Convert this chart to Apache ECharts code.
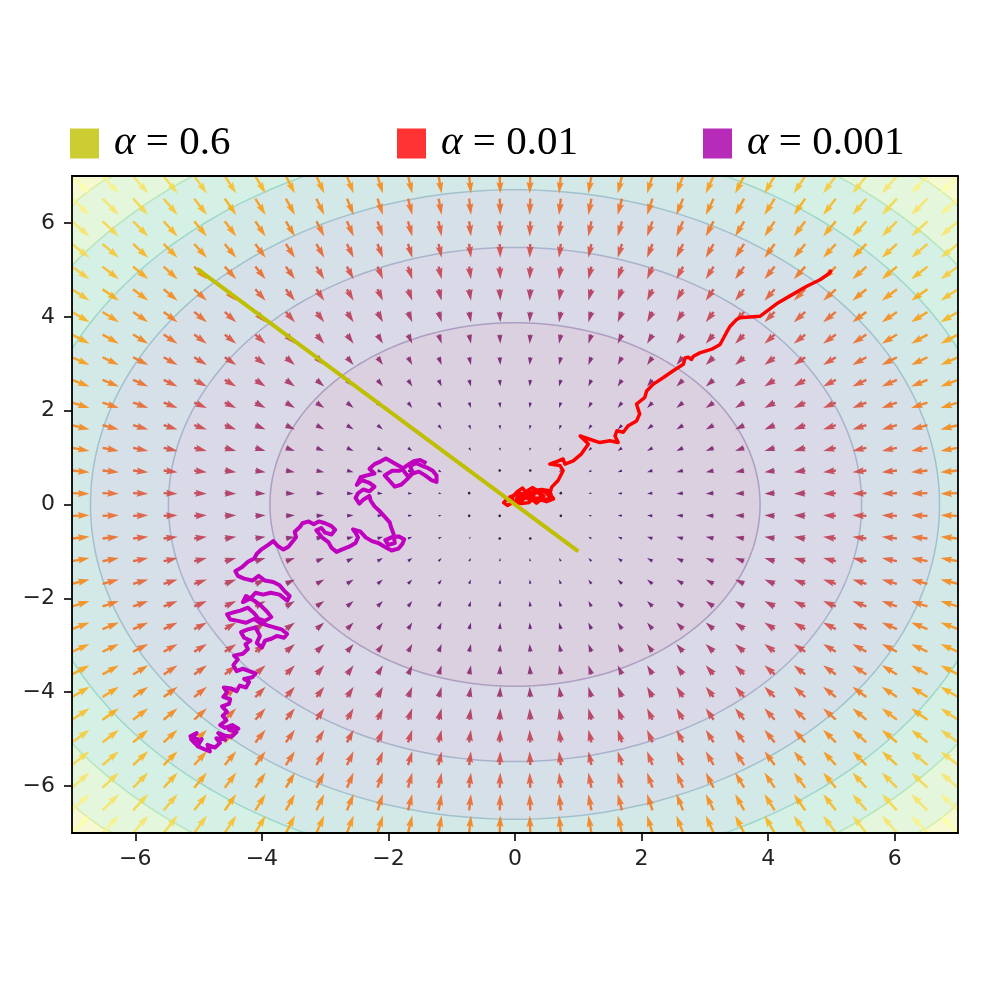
<!DOCTYPE html>
<html><head><meta charset="utf-8">
<script src="https://cdn.jsdelivr.net/npm/echarts@6/dist/echarts.min.js"></script>
<style>html,body{margin:0;padding:0;background:#fff}#c{width:1000px;height:1000px}</style>
</head><body><div id="c"></div>
<script>
// ---- data ----
const xTicks = [-6, -4, -2, 0, 2, 4, 6];
const yTicks = [-6, -4, -2, 0, 2, 4, 6];
const gridVals = [-7, -6.5172, -6.0345, -5.5517, -5.0690, -4.5862, -4.1034, -3.6207, -3.1379, -2.6552,
  -2.1724, -1.6897, -1.2069, -0.7241, -0.2414, 0.2414, 0.7241, 1.2069, 1.6897, 2.1724,
  2.6552, 3.1379, 3.6207, 4.1034, 4.5862, 5.0690, 5.5517, 6.0345, 6.5172, 7];
const contourLevels = [15, 30, 45, 60, 75, 90];
const bandColors = ['#dad0e0', '#d9d9e7', '#d6e0e8', '#d3e9e8', '#d5f0e5', '#e4f6dc', '#f6f9d1'];
const lineColors = ['rgba(72,33,115,0.3)', 'rgba(59,82,139,0.3)', 'rgba(44,114,142,0.3)',
  'rgba(34,168,132,0.3)', 'rgba(94,201,98,0.3)', 'rgba(173,220,48,0.3)'];
const seriesNames = ['α = 0.6', 'α = 0.01', 'α = 0.001'];
const legendLabels = ['0.6', '0.01', '0.001'];
const traj06 = [[-5, 5], [1, -1], [-0.2, 0.2], [0.04, -0.04], [-0.008, 0.008], [0.0016, -0.0016]];
const traj001 = [[5.0,5.0],[4.97,4.93],[4.82,4.79],[4.61,4.65],[4.34,4.44],[4.16,4.30],[3.98,4.12],[3.87,4.01],
  [3.55,3.98],[3.50,3.94],[3.40,3.80],[3.34,3.66],[3.24,3.41],[3.11,3.31],[2.92,3.23],[2.82,3.16],[2.79,3.09],
  [2.74,3.14],[2.69,3.13],[2.66,2.99],[2.50,2.85],[2.34,2.70],[2.18,2.56],[2.08,2.42],[2.05,2.28],[1.92,2.14],
  [1.97,1.93],[1.92,1.78],[1.79,1.68],[1.71,1.54],[1.61,1.57],[1.58,1.46],[1.63,1.32],[1.50,1.36],[1.34,1.32],
  [1.18,1.39],[1.03,1.46],[1.16,1.29],[1.05,1.08],[0.92,0.93],[0.79,0.86],[0.76,0.97],[0.63,0.90],[0.55,0.86],
  [0.71,0.83],[0.76,0.72],[0.68,0.51],[0.58,0.37],[0.55,0.23],[0.61,0.12],[0.50,0.06],[0.40,0.10],[0.34,0.03],
  [0.24,0.14],[0.16,0.28],[0.12,0.35],[0.04,0.28],[-0.03,0.18],[-0.05,0.10],[-0.14,0.10],[-0.18,0.04],[-0.12,-0.02],
  [-0.04,0.04],[0.06,0.06],[0.14,0.16],[0.20,0.30],[0.28,0.36],[0.35,0.30],[0.40,0.20],[0.44,0.30],[0.50,0.24],
  [0.56,0.14],[0.46,0.10],[0.36,0.14],[0.26,0.08],[0.18,0.20],[0.08,0.24],[0.00,0.20],[-0.08,0.16],[-0.02,0.06],
  [0.10,0.02],[0.22,0.04],[0.30,0.18],[0.22,0.28],[0.12,0.22],[0.02,0.12],[0.10,0.08],[0.24,0.22],[0.38,0.26],
  [0.46,0.18],[0.34,0.08],[0.20,0.12],[0.30,0.30],[0.42,0.32],[0.52,0.30],[0.58,0.20]];
const traj0001 = [[-5.00,-5.01],[-5.13,-4.94],[-5.03,-4.87],[-5.12,-5.00],[-5.05,-5.10],[-4.95,-5.00],[-5.02,-5.15],
  [-4.90,-5.22],[-4.82,-5.26],[-4.86,-5.12],[-4.74,-5.18],[-4.66,-5.08],[-4.72,-4.98],[-4.58,-5.01],[-4.69,-4.87],
  [-4.60,-4.92],[-4.48,-4.95],[-4.40,-4.85],[-4.52,-4.80],[-4.37,-4.78],[-4.47,-4.70],[-4.58,-4.76],[-4.66,-4.70],
  [-4.56,-4.60],[-4.62,-4.50],[-4.55,-4.42],[-4.63,-4.30],[-4.52,-4.25],[-4.50,-4.15],[-4.61,-4.10],[-4.55,-4.00],
  [-4.60,-3.90],[-4.48,-3.92],[-4.40,-3.98],[-4.35,-3.86],[-4.25,-3.90],[-4.20,-3.78],[-4.28,-3.72],[-4.15,-3.68],
  [-4.10,-3.60],[-4.20,-3.55],[-4.30,-3.50],[-4.40,-3.55],[-4.45,-3.42],[-4.38,-3.30],[-4.44,-3.22],[-4.30,-3.18],
  [-4.22,-3.08],[-4.26,-2.98],[-4.18,-2.90],[-4.28,-2.84],[-4.33,-2.72],[-4.22,-2.66],[-4.10,-2.62],[-4.03,-2.80],
  [-4.08,-2.95],[-4.00,-3.05],[-3.95,-2.90],[-3.85,-2.86],[-3.76,-2.80],[-3.65,-2.84],[-3.60,-2.76],[-3.69,-2.66],
  [-3.80,-2.62],[-3.90,-2.58],[-4.03,-2.52],[-4.12,-2.44],[-4.25,-2.52],[-4.38,-2.48],[-4.50,-2.45],[-4.55,-2.34],
  [-4.45,-2.30],[-4.34,-2.26],[-4.22,-2.20],[-4.12,-2.32],[-4.05,-2.44],[-3.95,-2.48],[-3.85,-2.40],[-3.92,-2.28],
  [-4.02,-2.15],[-4.12,-2.05],[-4.25,-1.95],[-4.30,-2.08],[-4.18,-2.00],[-4.10,-1.88],[-3.98,-1.92],[-3.86,-1.88],
  [-3.72,-1.92],[-3.60,-2.05],[-3.56,-1.95],[-3.64,-1.85],[-3.72,-1.72],[-3.82,-1.65],[-3.95,-1.62],[-4.05,-1.52],
  [-4.15,-1.62],[-4.28,-1.58],[-4.38,-1.52],[-4.42,-1.42],[-4.32,-1.34],[-4.22,-1.22],[-4.12,-1.15],[-4.08,-1.05],
  [-4.00,-0.95],[-3.90,-0.86],[-3.82,-0.78],[-3.75,-0.88],[-3.66,-0.96],[-3.58,-0.90],[-3.52,-0.80],[-3.46,-0.70],
  [-3.48,-0.58],[-3.40,-0.48],[-3.36,-0.40],[-3.26,-0.36],[-3.18,-0.42],[-3.10,-0.36],[-3.00,-0.40],[-2.90,-0.46],
  [-2.84,-0.54],[-2.90,-0.64],[-3.00,-0.60],[-3.06,-0.50],[-3.14,-0.55],[-3.05,-0.70],[-2.95,-0.80],[-2.90,-0.92],
  [-2.82,-1.01],[-2.72,-0.95],[-2.62,-0.90],[-2.52,-0.82],[-2.48,-0.70],[-2.52,-0.60],[-2.56,-0.53],[-2.44,-0.58],
  [-2.36,-0.70],[-2.26,-0.78],[-2.16,-0.82],[-2.06,-0.90],[-1.95,-0.98],[-1.84,-0.94],[-1.78,-0.84],[-1.75,-0.74],
  [-1.84,-0.68],[-1.95,-0.70],[-2.05,-0.76],[-2.00,-0.86],[-1.90,-0.82],[-1.92,-0.62],[-1.96,-0.48],[-1.98,-0.38],
  [-2.06,-0.26],[-2.14,-0.14],[-2.22,-0.04],[-2.28,0.08],[-2.30,0.18],[-2.40,0.10],[-2.46,0.02],[-2.52,0.14],
  [-2.48,0.24],[-2.40,0.32],[-2.30,0.28],[-2.22,0.38],[-2.30,0.46],[-2.42,0.52],[-2.50,0.42],[-2.44,0.58],
  [-2.34,0.62],[-2.22,0.66],[-2.30,0.76],[-2.22,0.86],[-2.12,0.92],[-2.04,0.98],[-1.96,0.92],[-1.88,0.86],
  [-1.80,0.80],[-1.74,0.68],[-1.68,0.58],[-1.62,0.70],[-1.66,0.82],[-1.56,0.88],[-1.46,0.82],[-1.38,0.78],
  [-1.30,0.72],[-1.24,0.62],[-1.24,0.48],[-1.32,0.52],[-1.42,0.62],[-1.52,0.70],[-1.62,0.66],[-1.72,0.52],
  [-1.80,0.42],[-1.90,0.38],[-1.98,0.50],[-2.06,0.62],[-1.94,0.72],[-1.82,0.72],[-1.72,0.82],[-1.60,0.92],
  [-1.50,0.95],[-1.40,0.88]];

// ---- quiver field: negative gradient of the bowl, sampled on the grid ----
const quiverData = [];
gridVals.forEach(x => gridVals.forEach(y => quiverData.push([x, y, -x, -y])));
let maxMag = 0;
quiverData.forEach(d => { maxMag = Math.max(maxMag, Math.hypot(d[2], d[3])); });

const inferno = ['#000004','#160b39','#420a68','#6a176e','#932667','#bc3754','#dd513a','#f37819','#fca50a','#f6d746','#fcffa4'];
function hex2rgb(h){return [parseInt(h.substr(1,2),16),parseInt(h.substr(3,2),16),parseInt(h.substr(5,2),16)];}
function cmapColor(t, a) {
  t = Math.max(0, Math.min(1, t));
  const p = t * 10, i = Math.min(9, Math.floor(p)), f = p - i;
  const c0 = hex2rgb(inferno[i]), c1 = hex2rgb(inferno[i + 1]);
  const c = c0.map((v, k) => Math.round(v + (c1[k] - v) * f));
  return 'rgba(' + c.join(',') + ',' + a + ')';
}

const PX_PER_UNIT = 2.5, SW = 2.4, HL = 11.5, HAL = 10.3, HW = 7;
function renderArrow(params, api) {
  const x = api.value(0), y = api.value(1), u = api.value(2), v = api.value(3);
  const p = api.coord([x, y]);
  const m = Math.hypot(u, v);
  const color = cmapColor(m / maxMag, 0.88);
  const L = m * PX_PER_UNIT;
  if (L < SW) {
    return { type: 'circle', shape: { cx: p[0], cy: p[1], r: 1.3 }, style: { fill: color } };
  }
  const dx = u / m, dy = -v / m;
  const nx = -dy, ny = dx;
  let s = 1, len = L;
  if (L < HL) { s = L / HL; len = HL; }
  const loc = [[0, -SW / 2], [len - HAL, -SW / 2], [len - HL, -HW / 2], [len, 0], [len - HL, HW / 2], [len - HAL, SW / 2], [0, SW / 2]];
  const pts = loc.map(q => [p[0] + s * (q[0] * dx + q[1] * nx), p[1] + s * (q[0] * dy + q[1] * ny)]);
  return { type: 'polygon', shape: { points: pts }, style: { fill: color } };
}

function circlePts(api, r) {
  const pts = [];
  for (let i = 0; i <= 240; i++) {
    const a = i / 240 * Math.PI * 2;
    const cx = Math.max(-7, Math.min(7, r * Math.cos(a)));
    const cy = Math.max(-7, Math.min(7, r * Math.sin(a)));
    pts.push(api.coord([cx, cy]));
  }
  return pts;
}
function renderContour(params, api) {
  const children = [];
  children.push({ type: 'polygon', shape: { points: [api.coord([-7, -7]), api.coord([7, -7]), api.coord([7, 7]), api.coord([-7, 7])] },
    style: { fill: bandColors[6] } });
  for (let k = contourLevels.length - 1; k >= 0; k--) {
    children.push({ type: 'polygon', shape: { points: circlePts(api, Math.sqrt(contourLevels[k])) }, style: { fill: bandColors[k] } });
  }
  for (let k = contourLevels.length - 1; k >= 0; k--) {
    children.push({ type: 'polyline', shape: { points: circlePts(api, Math.sqrt(contourLevels[k])) },
      style: { stroke: lineColors[k], lineWidth: 1.5, fill: null } });
  }
  return { type: 'group', children };
}

const fmt = v => (v < 0 ? '\u2212' + (-v) : '' + v);
const legendColors = ['#cccc33', '#ff3333', '#b62bb8'];
const legendLefts = [70, 397, 703];
const lineColorsTraj = ['#bfbf00', '#ff0000', '#bf00bf'];

const axisLineStyle = { show: true, onZero: false, lineStyle: { color: '#000', width: 1.8 } };
const axisCommon = { type: 'value', min: -7, max: 7, z: 10, splitLine: { show: false } };
const option = {
  animation: false,
  backgroundColor: '#fff',
  grid: { left: 72, right: 42, top: 176, bottom: 167 },
  legend: seriesNames.map((n, i) => ({
    data: [{ name: n, itemStyle: { color: legendColors[i] } }],
    left: legendLefts[i], top: 123, padding: 0, icon: 'rect', itemWidth: 29, itemHeight: 30,
    selectedMode: false,
    formatter: () => '{a|α}{b| = ' + legendLabels[i] + '}',
    textStyle: {
      rich: {
        a: { fontFamily: 'Liberation Serif', fontStyle: 'italic', fontSize: 41, color: '#000', padding: [0, 0, 0, 10], lineHeight: 30 },
        b: { fontFamily: 'Liberation Serif', fontSize: 41, color: '#000', lineHeight: 30 }
      }
    }
  })),
  xAxis: [
    Object.assign({}, axisCommon, { position: 'bottom', axisLine: axisLineStyle,
      axisTick: { show: true, length: 8, lineStyle: { color: '#000', width: 1.6 }, customValues: xTicks },
      axisLabel: { customValues: xTicks, formatter: fmt, margin: 15, fontFamily: 'DejaVu Sans', fontSize: 22, color: '#222' } }),
    Object.assign({}, axisCommon, { position: 'top', axisLine: axisLineStyle,
      axisTick: { show: false }, axisLabel: { show: false } })
  ],
  yAxis: [
    Object.assign({}, axisCommon, { position: 'left', axisLine: axisLineStyle,
      axisTick: { show: true, length: 8, lineStyle: { color: '#000', width: 1.6 }, customValues: yTicks },
      axisLabel: { customValues: yTicks, formatter: fmt, margin: 17, fontFamily: 'DejaVu Sans', fontSize: 22, color: '#222' } }),
    Object.assign({}, axisCommon, { position: 'right', axisLine: axisLineStyle,
      axisTick: { show: false }, axisLabel: { show: false } })
  ],
  series: [
    { type: 'custom', name: 'contour', data: [[0, 0]], renderItem: renderContour, clip: true, z: 1, silent: true },
    { type: 'custom', name: 'quiver', data: quiverData, renderItem: renderArrow, clip: true, z: 2, silent: true,
      dimensions: ['x', 'y', 'u', 'v'], encode: { x: 0, y: 1 } },
    { type: 'line', name: seriesNames[2], data: traj0001, showSymbol: false, symbol: 'none', z: 3,
      lineStyle: { color: lineColorsTraj[2], width: 4, join: 'round' }, itemStyle: { color: lineColorsTraj[2] } },
    { type: 'line', name: seriesNames[1], data: traj001, showSymbol: false, symbol: 'none', z: 4,
      lineStyle: { color: lineColorsTraj[1], width: 3.5, join: 'round' }, itemStyle: { color: lineColorsTraj[1] } },
    { type: 'line', name: seriesNames[0], data: traj06, showSymbol: false, symbol: 'none', z: 5,
      lineStyle: { color: lineColorsTraj[0], width: 4, cap: 'square' }, itemStyle: { color: lineColorsTraj[0] } }
  ]
};
const chart = echarts.init(document.getElementById('c'), null, { renderer: 'canvas' });
chart.setOption(option);
</script></body></html>
